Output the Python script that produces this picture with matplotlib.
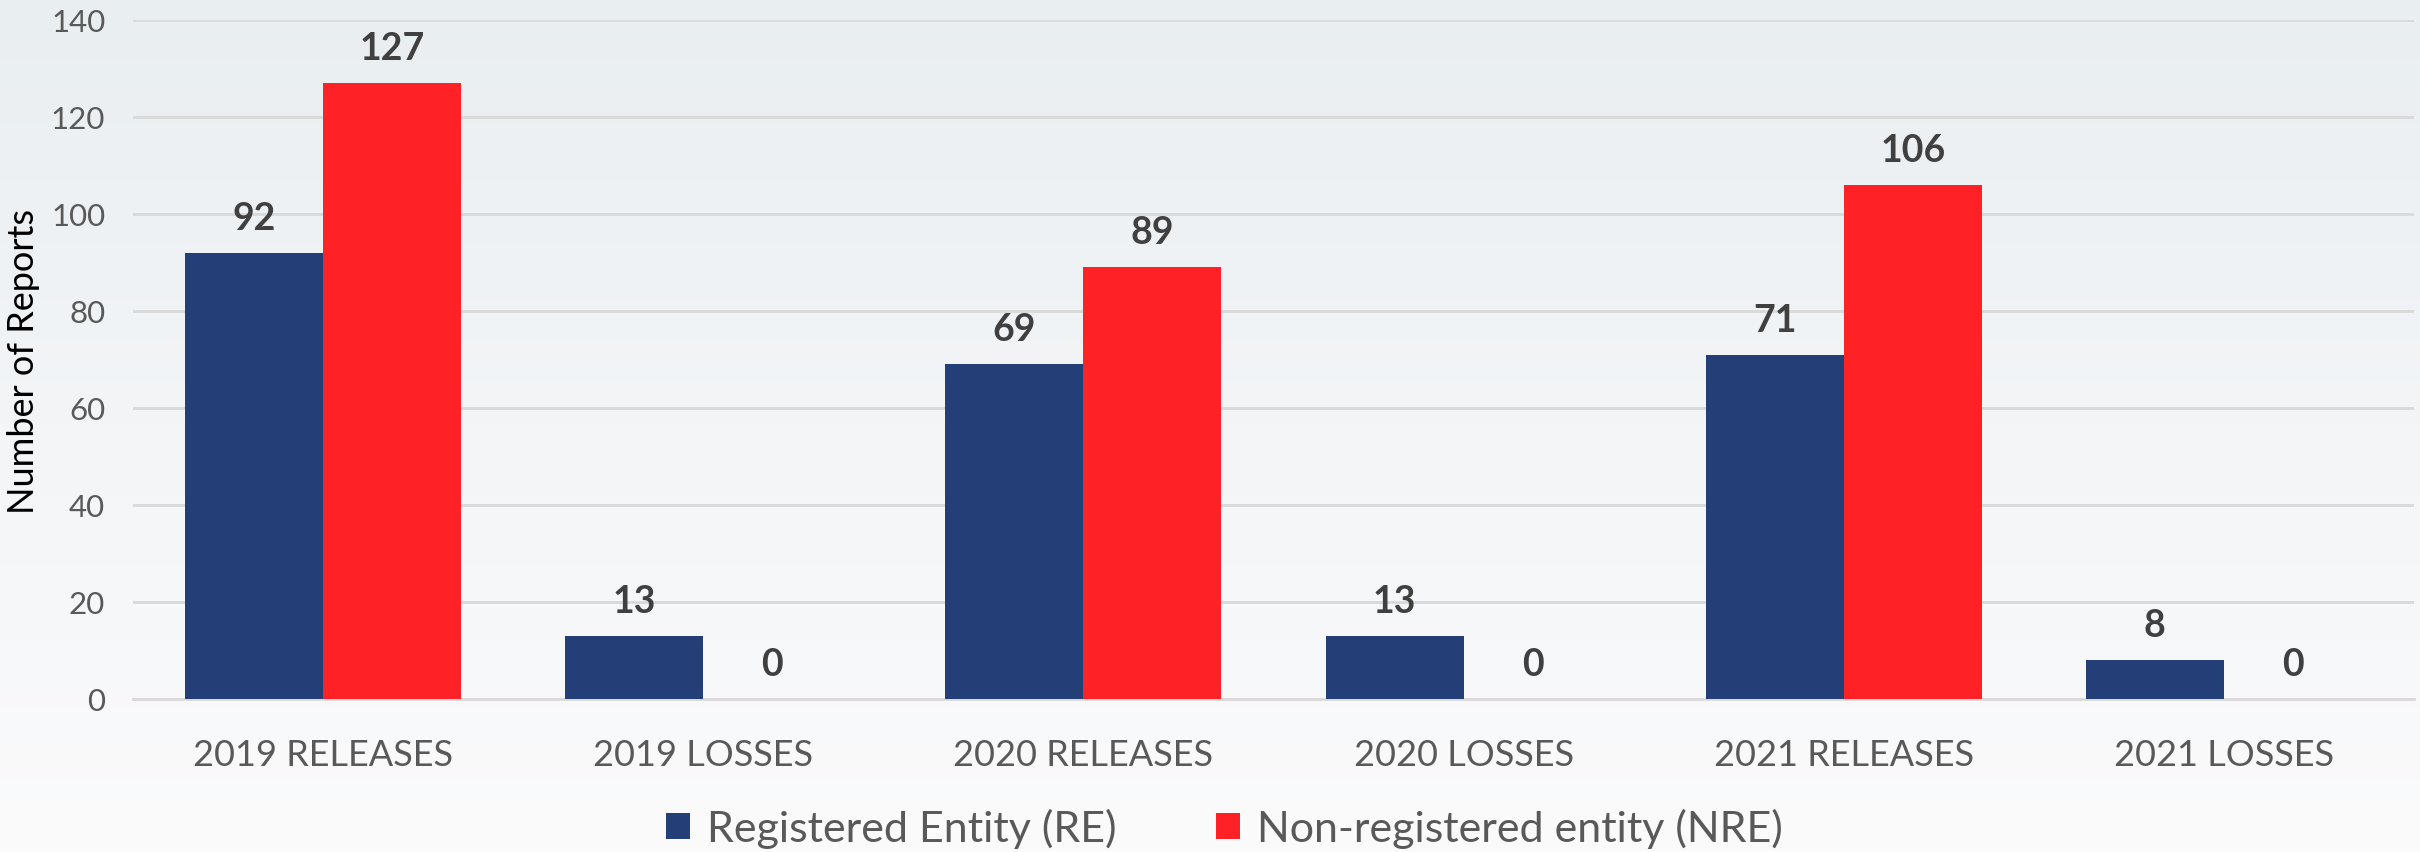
import numpy as np
import matplotlib
matplotlib.use("Agg")
import matplotlib.pyplot as plt
from matplotlib.colors import LinearSegmentedColormap

categories = ["2019 RELEASES", "2019 LOSSES", "2020 RELEASES",
              "2020 LOSSES", "2021 RELEASES", "2021 LOSSES"]
re_values = [92, 13, 69, 13, 71, 8]
nre_values = [127, 0, 89, 0, 106, 0]
series_names = ["Registered Entity (RE)", "Non-registered entity (NRE)"]

RE_COLOR = "#243F78"
NRE_COLOR = "#FE2226"
LABEL_COLOR = "#404040"
GRID_COLOR = "#D9D9D9"

plt.rcParams['font.family'] = ['Lato', 'DejaVu Sans']

fig = plt.figure(figsize=(24.2, 8.53), dpi=100)

# soft background, light at the bottom, slightly tinted at the top
bg = fig.add_axes([0, 0, 1, 1], zorder=-10)
grad = np.linspace(0, 1, 256).reshape(-1, 1)
cmap = LinearSegmentedColormap.from_list("bg", ["#E9EEF1", "#F3F5F7", "#FBFBFC"])
bg.imshow(grad, aspect="auto", cmap=cmap, extent=[0, 1, 0, 1], origin="upper")
bg.set_axis_off()

ax = fig.add_axes([133 / 2420, 1 - 700 / 853, (2414 - 133) / 2420, (700 - 21) / 853])
ax.set_facecolor("none")

x = np.arange(len(categories))
w = 0.363
bars_re = ax.bar(x - w / 2, re_values, w, color=RE_COLOR, label=series_names[0], zorder=3)
bars_nre = ax.bar(x + w / 2, nre_values, w, color=NRE_COLOR, label=series_names[1], zorder=3)

for bars in (bars_re, bars_nre):
    ax.bar_label(bars, padding=13, fontsize=27, fontweight="bold", color=LABEL_COLOR)

ax.set_xlim(-0.5, len(categories) - 0.5)
ax.set_ylim(0, 140)
ax.set_yticks(range(0, 141, 20))
ax.set_xticks(x)
ax.set_xticklabels(categories, fontsize=26, color="#595959")
ax.tick_params(axis="y", labelsize=22.5, labelcolor="#595959", length=0, pad=20)
ax.tick_params(axis="x", length=0, pad=28)
ax.grid(axis="y", color=GRID_COLOR, linewidth=2, zorder=0)
for side in ("top", "right", "left"):
    ax.spines[side].set_visible(False)
ax.spines["bottom"].set_color(GRID_COLOR)
ax.spines["bottom"].set_linewidth(2)

fig.text(24 / 2420, 1 - 362 / 853, "Number of Reports", rotation=90,
         ha="center", va="center", fontsize=26, color="black")

fig.legend(handles=[bars_re, bars_nre], labels=series_names, loc="center",
           bbox_to_anchor=(0.506, 1 - 829 / 853), ncol=2, frameon=False,
           fontsize=31, labelcolor="#595959", handlelength=0.55, handleheight=0.55,
           handletextpad=0.4, columnspacing=2.3)

fig.savefig("out.png", dpi=100)
